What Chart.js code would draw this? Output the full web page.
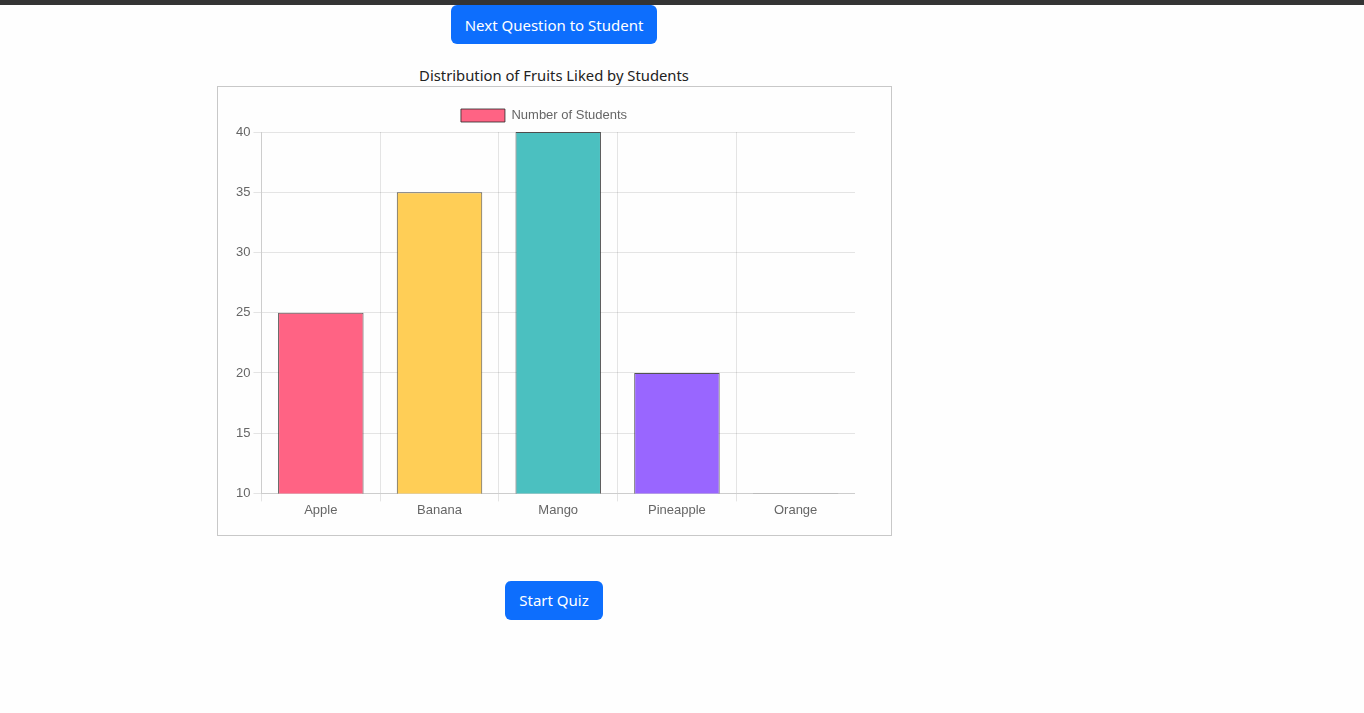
<!DOCTYPE html>
<html>
<head>
<meta charset="utf-8">
<script src="https://cdn.jsdelivr.net/npm/chart.js@4"></script>
<style>
  html, body { margin: 0; padding: 0; background: #fefefe; width: 1364px; height: 713px; overflow: hidden; font-family: "Noto Sans", "Open Sans", sans-serif; }
  .topbar { position: absolute; left: 0; top: 0; width: 1364px; height: 5px; background: #343434; }
  .btn { position: absolute; background: #0d6efd; color: #fff; border-radius: 6px; font-size: 15px; display: flex; align-items: center; justify-content: center; }
  #next { left: 451px; top: 5px; width: 206px; height: 39px; }
  #start { left: 505px; top: 581px; width: 98px; height: 39px; padding-bottom: 1px; box-sizing: border-box; }
  #title { position: absolute; left: 217px; width: 674px; top: 65px; text-align: center; font-size: 14.8px; color: #222; }
  #box { position: absolute; left: 217px; top: 86px; width: 673px; height: 448px; border: 1px solid #c8c8c8; box-sizing: content-box; }
  #wrap { position: absolute; left: 233px; top: 99px; width: 622px; height: 420px; }
</style>
</head>
<body>
<div class="topbar"></div>
<div class="btn" id="next">Next Question to Student</div>
<div id="title">Distribution of Fruits Liked by Students</div>
<div id="box"></div>
<div id="wrap"><canvas id="c"></canvas></div>
<div class="btn" id="start">Start Quiz</div>
<script>
const categories = ["Apple", "Banana", "Mango", "Pineapple", "Orange"];
const studentCounts = [25, 35, 40, 20, 10];
const barColors = ["#FF6384", "#FFCE56", "#4BC0C0", "#9966FF", "#FF9F40"];
const seriesLabel = "Number of Students";

Chart.defaults.font.family = '"Liberation Sans", Arial, sans-serif';
Chart.defaults.font.size = 13;
Chart.defaults.color = '#666';

new Chart(document.getElementById('c'), {
  type: 'bar',
  data: {
    labels: categories,
    datasets: [{
      label: seriesLabel,
      data: studentCounts,
      backgroundColor: barColors,
      borderColor: 'rgba(40,40,40,0.8)',
      borderWidth: 1
    }]
  },
  options: {
    responsive: true,
    maintainAspectRatio: false,
    animation: false,
    plugins: {
      legend: { display: true, labels: { boxWidth: 44 } },
      title: { display: false }
    },
    scales: {
      y: { beginAtZero: false, min: 10, max: 40, ticks: { stepSize: 5 } },
      x: { ticks: { padding: 1 } }
    }
  }
});
</script>
</body>
</html>
